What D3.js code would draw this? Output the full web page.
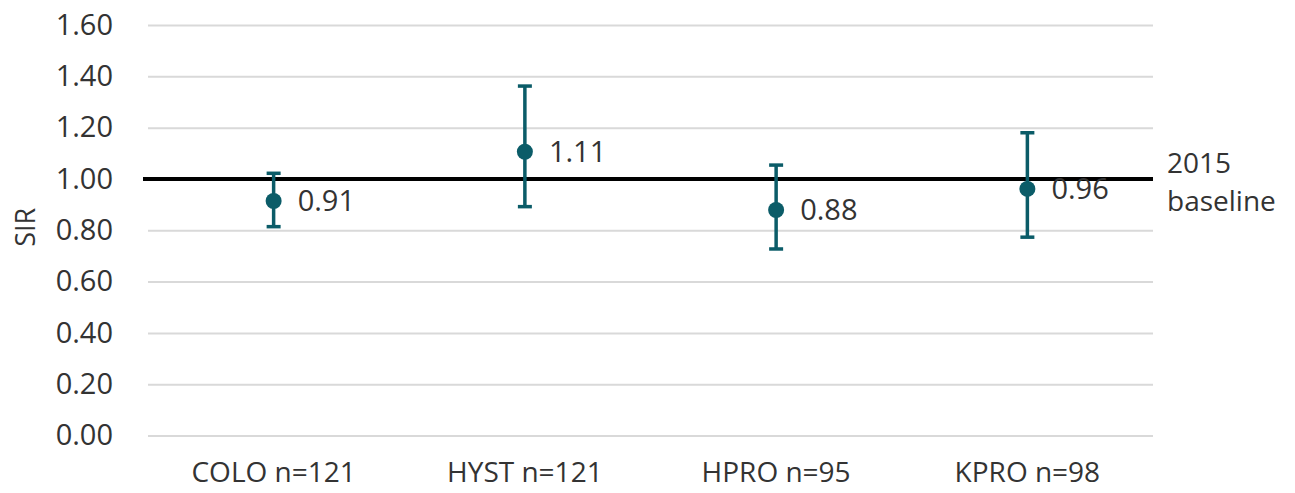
<!DOCTYPE html>
<meta charset="utf-8">
<script src="https://d3js.org/d3.v7.min.js"></script>
<style>
  body { margin: 0; background: #fff; }
  text { font-family: "Open Sans", "Noto Sans", sans-serif; fill: #333; }
</style>
<div id="my_dataviz"></div>
<script>

// data
var categories = ["COLO n=121", "HYST n=121", "HPRO n=95", "KPRO n=98"];
var sir        = [0.91, 1.11, 0.88, 0.96];
var sirShown   = [0.914, 1.106, 0.879, 0.961];
var lowerCI    = [0.814, 0.892, 0.727, 0.773];
var upperCI    = [1.022, 1.362, 1.054, 1.180];
var yTicks     = [0, 0.2, 0.4, 0.6, 0.8, 1.0, 1.2, 1.4, 1.6];
var baseline   = 1.0;

var data = categories.map(function(c, i) {
  return { cat: c, label: sir[i], v: sirShown[i], lo: lowerCI[i], hi: upperCI[i] };
});

var W = 1295, H = 493;
var margin = {top: 25, right: 142, bottom: 57.5, left: 148},
    width = W - margin.left - margin.right,
    height = H - margin.top - margin.bottom;

var svg = d3.select("#my_dataviz")
  .append("svg")
    .attr("width", W)
    .attr("height", H)
  .append("g")
    .attr("transform", "translate(" + margin.left + "," + margin.top + ")");

var x = d3.scaleBand().domain(categories).range([0, width]);
var y = d3.scaleLinear().domain([0, 1.6]).range([height, 0]);

// gridlines + y labels
var yAxis = svg.append("g")
  .call(d3.axisLeft(y).tickValues(yTicks).tickSize(-width).tickFormat(d3.format(".2f")).tickPadding(35));
yAxis.select(".domain").remove();
yAxis.selectAll("line").attr("stroke", "#d9d9d9").attr("stroke-width", 2);
yAxis.selectAll("text").style("font-size", "29px").attr("fill", "#333");

// x labels
var xAxis = svg.append("g")
  .attr("transform", "translate(0," + height + ")")
  .call(d3.axisBottom(x).tickSize(0).tickPadding(27));
xAxis.select(".domain").remove();
xAxis.selectAll("text").style("font-size", "28px").attr("fill", "#333");

// baseline
svg.append("line")
  .attr("x1", -5).attr("x2", width)
  .attr("y1", y(baseline)).attr("y2", y(baseline))
  .attr("stroke", "#000").attr("stroke-width", 4);

svg.append("text")
  .attr("x", width + 14)
  .attr("y", y(baseline) - 6)
  .style("font-size", "28px")
  .selectAll("tspan")
  .data(["2015", "baseline"])
  .enter().append("tspan")
    .attr("x", width + 14)
    .attr("dy", function(d, i) { return i === 0 ? 0 : 38; })
    .text(function(d) { return d; });

// y title
svg.append("text")
  .attr("transform", "rotate(-90)")
  .attr("x", -(y(0.8) - 3))
  .attr("y", -margin.left + 35)
  .attr("text-anchor", "middle")
  .style("font-size", "27px")
  .text("SIR");

var teal = "#0b5c68";
var cx = function(d) { return x(d.cat) + x.bandwidth() / 2; };

var g = svg.selectAll(".pt").data(data).enter().append("g");

g.append("line")
  .attr("x1", cx).attr("x2", cx)
  .attr("y1", function(d) { return y(d.lo); })
  .attr("y2", function(d) { return y(d.hi); })
  .attr("stroke", teal).attr("stroke-width", 3.5);

["lo", "hi"].forEach(function(k) {
  g.append("line")
    .attr("x1", function(d) { return cx(d) - 7; })
    .attr("x2", function(d) { return cx(d) + 7; })
    .attr("y1", function(d) { return y(d[k]); })
    .attr("y2", function(d) { return y(d[k]); })
    .attr("stroke", teal).attr("stroke-width", 3.5);
});

g.append("circle")
  .attr("cx", cx)
  .attr("cy", function(d) { return y(d.v); })
  .attr("r", 8)
  .attr("fill", teal);

g.append("text")
  .attr("x", function(d) { return cx(d) + 24; })
  .attr("y", function(d) { return y(d.v); })
  .attr("dy", "0.36em")
  .style("font-size", "29px")
  .text(function(d) { return d3.format(".2f")(d.label); });

</script>
